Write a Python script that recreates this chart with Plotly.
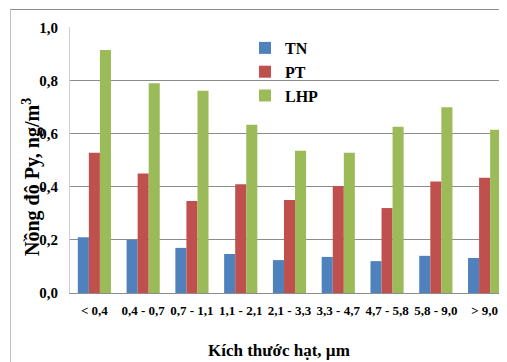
import plotly.graph_objects as go

categories = ["< 0,4", "0,4 - 0,7", "0,7 - 1,1", "1,1 - 2,1", "2,1 - 3,3",
              "3,3 - 4,7", "4,7 - 5,8", "5,8 - 9,0", "> 9,0"]
tn = [0.21, 0.20, 0.17, 0.147, 0.124, 0.136, 0.12, 0.14, 0.132]
pt = [0.528, 0.45, 0.347, 0.41, 0.35, 0.403, 0.32, 0.42, 0.434]
lhp = [0.915, 0.79, 0.762, 0.634, 0.536, 0.528, 0.626, 0.70, 0.615]
series_names = ["TN", "PT", "LHP"]
colors = ["#4F81BD", "#C0504D", "#9BBB59"]
y_ticks = [0.0, 0.2, 0.4, 0.6, 0.8, 1.0]
y_ticktext = ["0,0", "0,2", "0,4", "0,6", "0,8", "1,0"]

FONT = "Liberation Serif, Times New Roman, serif"
W, H = 507, 362
OFF = 8  # page body margin offset
# desired screen positions of the plot area
SL, ST, SB, SR = 70, 27, 293, 509
L = SL - OFF
T = ST - OFF
B = H - (SB - OFF)
R = W - (SR - OFF)

fig = go.Figure()
for i, (name, vals) in enumerate(zip(series_names, [tn, pt, lhp])):
    fig.add_trace(go.Bar(
        x=list(range(len(categories))), y=vals, name=name,
        marker=dict(color=colors[i], line=dict(width=0)),
        legendgroup=name,
    ))

pw = W - L - R
ph = H - T - B
def px(x):
    return (x - OFF - L) / pw
def py(y):
    return 1 - (y - OFF - T) / ph

fig.update_layout(
    width=W, height=H,
    margin=dict(l=L, r=R, t=T, b=B, pad=0),
    paper_bgcolor="white", plot_bgcolor="white",
    barmode="group", bargap=0.32, bargroupgap=0,
    font=dict(family=FONT, color="black"),
    showlegend=True,
    legend=dict(
        x=px(245), y=py(31),
        xanchor="left", yanchor="top",
        bgcolor="rgba(0,0,0,0)",
        font=dict(family=FONT, size=16, color="black", weight="bold"),
        tracegroupgap=0, itemwidth=30,
    ),
    xaxis=dict(
        range=[-0.5, 8.5],
        tickmode="array", tickvals=list(range(len(categories))), ticktext=categories,
        tickfont=dict(family=FONT, size=13, color="black", weight="bold"),
        showline=True, linecolor="#8C8C8C", linewidth=1,
        showgrid=False, zeroline=False, ticks="", ticklabelstandoff=5,
    ),
    yaxis=dict(
        range=[0, 1.002],
        tickmode="array", tickvals=y_ticks, ticktext=y_ticktext,
        tickfont=dict(family=FONT, size=15, color="black", weight="bold"),
        showline=True, linecolor="#D0D0D0", linewidth=1,
        showgrid=True, gridcolor="#8C8C8C", gridwidth=1,
        zeroline=False, ticks="", ticklabelstandoff=8,
    ),
)

# outer chart frame (top and left edges visible)
fig.add_shape(type="line", xref="paper", yref="paper",
              x0=px(10), x1=px(W + 20), y0=py(9.5), y1=py(9.5),
              line=dict(color="#8C8C8C", width=1))
fig.add_shape(type="line", xref="paper", yref="paper",
              x0=px(10.5), x1=px(10.5), y0=py(9.5), y1=py(H + 20),
              line=dict(color="#BFBFBF", width=1))

fig.add_annotation(
    text="Nồng độ Py, ng/m<sup>3</sup>", xref="paper", yref="paper",
    x=px(31), y=py(177), textangle=-90, showarrow=False,
    xanchor="center", yanchor="middle",
    font=dict(family=FONT, size=20, color="black", weight="bold"),
)
fig.add_annotation(
    text="Kích thước hạt, µm", xref="paper", yref="paper",
    x=px(279), y=py(350), showarrow=False,
    xanchor="center", yanchor="middle",
    font=dict(family=FONT, size=17, color="black", weight="bold"),
)

fig.write_html("out.html")
